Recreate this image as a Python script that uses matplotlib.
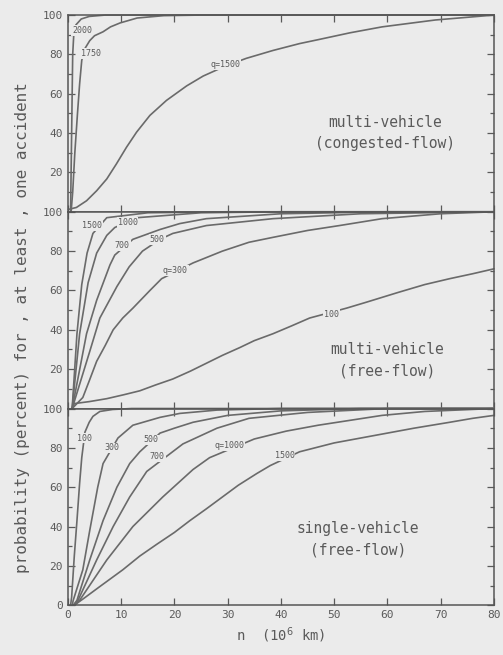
"""
probability of at least one accident vs. travel n, three traffic regimes
"""
import matplotlib.pyplot as plt
from matplotlib.ticker import MultipleLocator

# ---- data ------------------------------------------------------------------
# top panel: multi-vehicle, congested flow
cong_labels = ['2000', '1750', 'q=1500']
cong_2000_n = [0.5, 0.6, 0.7, 0.9, 1.1, 1.5, 2.5, 4, 7, 80]
cong_2000_p = [0, 20, 40, 80, 90, 95, 98, 99.3, 100, 100]
cong_1750_n = [0.6, 0.9, 1.3, 1.8, 2.2, 2.6, 3.2, 4.1, 5, 6.6, 8, 9.8, 13, 18, 25, 80]
cong_1750_p = [0, 10, 30, 50, 65, 77, 83, 87, 89.5, 91.5, 94, 96, 98.5, 99.7, 100, 100]
cong_1500_n = [0.1, 1.6, 3.5, 5.4, 7.3, 9.1, 11, 12.9, 15.4, 18.5, 22.3, 25.4,
               29.5, 33.5, 38.5, 43.5, 47, 53, 59, 69, 80]
cong_1500_p = [1.2, 2.2, 5.6, 10.7, 16.7, 24.3, 32.8, 40.5, 49, 56.6, 64, 69,
               74, 78, 82, 85.5, 87.5, 91, 94, 97.5, 100]

# middle panel: multi-vehicle, free flow
mfree_labels = ['1500', '1000', '700', '500', 'q=300', '100']
mfree_1500_n = [0.8, 1.7, 2.6, 3.6, 4.7, 7.3, 15, 30, 80]
mfree_1500_p = [0, 38, 63, 79, 89, 97, 99.5, 100, 100]
mfree_1000_n = [0.8, 2.2, 3.8, 5.4, 7.3, 8.8, 13, 25, 40, 80]
mfree_1000_p = [0, 38, 64, 79, 88, 92, 97, 99.5, 100, 100]
mfree_700_n = [0.8, 3.5, 5.4, 7.9, 8.8, 12.2, 17.3, 21, 26, 40, 60, 80]
mfree_700_p = [0, 38, 55, 73, 78, 86, 91, 94, 96.5, 99, 100, 100]
mfree_500_n = [0.8, 4.1, 6, 9.2, 11.5, 14, 17.3, 19.7, 26, 38.5, 55, 80]
mfree_500_p = [0, 29, 46, 62, 72, 80, 86, 89, 93, 96.5, 99, 100]
mfree_300_n = [0.8, 2.8, 4, 5.4, 7, 8.5, 10.3, 12.2, 15.4, 17.6, 23.5, 29, 34,
               38.5, 45, 51, 59, 70, 80]
mfree_300_p = [0, 5.6, 14, 24, 32, 40, 46, 51, 60, 66, 74, 80, 84.5, 87, 90.5,
               93, 96.5, 99, 100]
mfree_100_n = [0.8, 1.2, 4, 7.3, 10.5, 13.5, 16.5, 19.7, 23, 26, 29, 32.3, 35,
               38.5, 42, 45.4, 52.3, 56, 62, 67, 71.7, 76, 80]
mfree_100_p = [0, 2.5, 3.5, 5, 7, 9, 12, 15, 19, 23, 27, 31, 34.5, 38, 42, 46,
               51, 54, 59, 63, 66, 68.5, 71]

# bottom panel: single-vehicle, free flow
sfree_labels = ['100', '300', '500', '700', 'q=1000', '1500']
sfree_100_n = [0.5, 0.7, 1.2, 1.7, 2.2, 2.6, 3.2, 4, 4.7, 6, 8.4, 12, 80]
sfree_100_p = [0, 4, 25, 43, 62, 75, 88, 93, 96, 98.5, 99.5, 100, 100]
sfree_300_n = [0.8, 1, 2.8, 4.1, 5.6, 6.6, 9.4, 12.2, 17.3, 21, 28, 40, 80]
sfree_300_p = [0, 2.5, 18, 38, 60, 72, 85, 91.5, 95.5, 97.5, 99.2, 100, 100]
sfree_500_n = [1, 1.7, 4.1, 6.6, 9.2, 11.6, 13.5, 17.3, 20, 23.5, 30, 40, 55, 80]
sfree_500_p = [0, 2.5, 23, 43, 60, 72, 78, 87.5, 90, 93, 96.5, 98.8, 100, 100]
sfree_700_n = [1.2, 1.9, 5.4, 8.5, 11.6, 14.8, 21.6, 28, 34, 45, 60, 80]
sfree_700_p = [0, 2.5, 23, 40, 55, 68, 82, 90, 95, 98, 100, 100]
sfree_1000_n = [1.2, 2.2, 7.3, 12.2, 17.8, 23.5, 26.6, 35, 41, 47, 53, 59, 67, 80]
sfree_1000_p = [0, 2.5, 23, 40, 55, 69, 75, 84.5, 88.5, 91.5, 94, 96.5, 98.5, 100]
sfree_1500_n = [1.2, 3, 6, 10.3, 13.5, 16.7, 20, 22.9, 26, 29, 32, 35.5, 38,
                43.5, 50, 59, 65, 71.7, 76, 80]
sfree_1500_p = [0, 3.5, 9.5, 18, 25, 31, 37, 43, 49, 55, 61, 67, 71, 78, 82.5,
                87, 90, 93, 95, 96.5]

x_ticks = [0, 10, 20, 30, 40, 50, 60, 70, 80]
y_ticks = [0, 20, 40, 60, 80, 100]

# ---- styling -----------------------------------------------------------------
bg = '#ebebeb'
ink = '#5a5a5a'
plt.rcParams['font.family'] = ['DejaVu Sans Mono', 'DejaVu Sans']

fig, axes = plt.subplots(3, 1, sharex=True, figsize=(5.03, 6.55), dpi=100)
fig.patch.set_facecolor(bg)
fig.subplots_adjust(left=0.135, right=0.982, bottom=0.076, top=0.977, hspace=0)

panels = [
    (axes[0],
     [(cong_2000_n, cong_2000_p), (cong_1750_n, cong_1750_p), (cong_1500_n, cong_1500_p)],
     cong_labels, [(2.7, 92), (4.3, 80.5), (29.5, 75)],
     'multi-vehicle\n(congested-flow)', (59.5, 40)),
    (axes[1],
     [(mfree_1500_n, mfree_1500_p), (mfree_1000_n, mfree_1000_p), (mfree_700_n, mfree_700_p),
      (mfree_500_n, mfree_500_p), (mfree_300_n, mfree_300_p), (mfree_100_n, mfree_100_p)],
     mfree_labels, [(4.5, 93), (11.2, 94.5), (10.2, 83), (16.8, 86), (20.2, 70), (49.5, 48)],
     'multi-vehicle\n(free-flow)', (60, 24.5)),
    (axes[2],
     [(sfree_100_n, sfree_100_p), (sfree_300_n, sfree_300_p), (sfree_500_n, sfree_500_p),
      (sfree_700_n, sfree_700_p), (sfree_1000_n, sfree_1000_p), (sfree_1500_n, sfree_1500_p)],
     sfree_labels, [(3.2, 85), (8.2, 80), (15.5, 84), (16.8, 75.5), (30.3, 81), (40.7, 76)],
     'single-vehicle\n(free-flow)', (54.5, 33.5)),
]

for i, (ax, curves, labels, label_pos, title, title_pos) in enumerate(panels):
    ax.set_facecolor(bg)
    for n, p in curves:
        ax.plot(n, p, color='#6a6a6a', lw=1.2, solid_joinstyle='round',
                solid_capstyle='round', clip_on=False)
    for lab, (lx, ly) in zip(labels, label_pos):
        ax.text(lx, ly, lab, fontsize=6, color=ink, ha='center', va='center',
                bbox=dict(facecolor=bg, edgecolor='none', pad=0.6))
    ax.text(title_pos[0], title_pos[1], title, fontsize=10.5, color=ink,
            ha='center', va='center', linespacing=1.5)

    ax.set_xlim(0, 80)
    ax.set_ylim(0, 100)
    ax.set_xticks(x_ticks)
    ax.set_yticks(y_ticks)
    ax.yaxis.set_minor_locator(MultipleLocator(10))
    ax.tick_params(which='both', direction='in', top=True, right=True,
                   color=ink, labelcolor=ink, labelsize=8, width=0.9)
    ax.tick_params(which='major', length=5)
    ax.tick_params(which='minor', length=3)
    for s in ax.spines.values():
        s.set_color('#555555')
        s.set_linewidth(1.1)
    if i < 2:
        # zero of upper panels is shared with the 100 of the panel below
        ax.set_yticklabels(['', '20', '40', '60', '80', '100'])

axes[2].set_xlabel('n  (10$^{6}$ km)', fontsize=10, color=ink, labelpad=4)
fig.text(0.045, 0.5, 'probability (percent) for , at least , one accident',
         rotation=90, fontsize=11.5, color=ink, ha='center', va='center')

plt.savefig('out.png', dpi=100, facecolor=bg)
